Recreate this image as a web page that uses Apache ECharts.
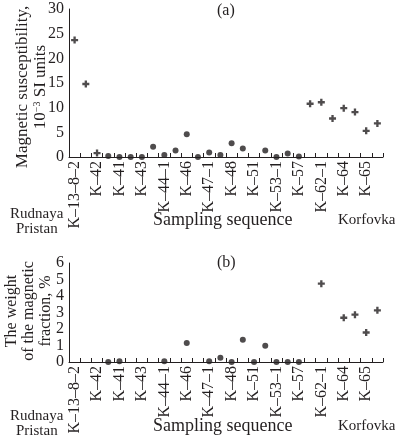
<!DOCTYPE html>
<html>
<head>
<meta charset="utf-8">
<script src="https://cdn.jsdelivr.net/npm/echarts@6/dist/echarts.min.js"></script>
<style>
  html, body { margin: 0; padding: 0; background: #fff; }
  #chart { width: 395px; height: 443px; }
</style>
</head>
<body>
<div id="chart"></div>
<script>
// sample slots along the sequence; only every other one is labelled
var samples = ['K–13–8–2', '', 'K–42', '', 'K–41', '', 'K–43', '', 'K–44–1', '', 'K–46', '',
  'K–47–1', '', 'K–48', '', 'K–51', '', 'K–53–1', '', 'K–57', '', 'K–62–1', '', 'K–64', '', 'K–65', ''];

// (a) magnetic susceptibility, 10^-3 SI units
var suscCross = [23.7, 14.8, 0.8, null, null, null, null, null, null, null, null, null, null, null,
  null, null, null, null, null, null, null, 10.8, 11.1, 7.8, 9.9, 9.1, 5.3, 6.8];
var suscDot = [null, null, null, 0.2, 0, 0, 0, 2.1, 0.4, 1.3, 4.6, 0, 0.9, 0.4,
  2.8, 1.7, null, 1.3, 0, 0.7, 0.1, null, null, null, null, null, null, null];

// (b) weight of the magnetic fraction, %
var fracCross = [null, null, null, null, null, null, null, null, null, null, null, null, null, null,
  null, null, null, null, null, null, null, null, 4.75, null, 2.68, 2.87, 1.79, 3.13];
var fracDot = [null, null, null, 0, 0.05, null, null, null, 0.05, null, 1.15, null, 0.04, 0.26,
  0, 1.35, 0, 0.99, 0, 0, 0, null, null, null, null, null, null, null];

var ink = '#231f20';
var serif = '"Liberation Serif", "DejaVu Serif", serif';
var plus = 'path://M2,0H4V2H6V4H4V6H2V4H0V2H2Z';

var chart = echarts.init(document.getElementById('chart'));

function xAxisFor(idx) {
  return {
    type: 'category',
    gridIndex: idx,
    data: samples,
    boundaryGap: true,
    axisLine: { lineStyle: { color: ink, width: 1 } },
    axisTick: { show: true, inside: true, length: 4, lineStyle: { color: ink } },
    axisLabel: { interval: 0, rotate: 90, margin: 4, color: ink, fontFamily: serif, fontSize: 16 }
  };
}

function yAxisFor(idx, max, step) {
  return {
    type: 'value',
    gridIndex: idx,
    min: 0,
    max: max,
    interval: step,
    splitLine: { show: false },
    axisTick: { show: false },
    axisLine: { show: true, lineStyle: { color: ink, width: 1 } },
    axisLabel: { color: ink, fontFamily: serif, fontSize: 16, margin: 5 }
  };
}

function scatter(xi, data, dot) {
  return {
    type: 'scatter',
    xAxisIndex: xi,
    yAxisIndex: xi,
    data: data,
    clip: false,
    symbol: dot ? 'circle' : plus,
    symbolSize: dot ? 6 : 7,
    itemStyle: { color: ink }
  };
}

// rotated axis title, drawn as a graphic so it sits exactly where the figure has it
function yTitle(x, y, text, size, lh) {
  return {
    type: 'text',
    x: x,
    y: y,
    rotation: Math.PI / 2,
    style: {
      text: text,
      fill: ink,
      fontFamily: serif,
      fontSize: size,
      lineHeight: lh,
      align: 'center',
      verticalAlign: 'middle',
      rich: { sup: { fontFamily: serif, fontSize: 10, lineHeight: lh, verticalAlign: 'top', padding: [0, 0, 6, 0], fill: ink } }
    }
  };
}

function caption(y1, y2, yMid) {
  return [
    { type: 'text', left: 10, top: y1, style: { text: 'Rudnaya', fill: ink, font: '15px ' + serif } },
    { type: 'text', left: 16, top: y2, style: { text: 'Pristan', fill: ink, font: '15px ' + serif } },
    { type: 'text', left: 153, top: yMid, style: { text: 'Sampling sequence', fill: ink, font: '18px ' + serif } },
    { type: 'text', left: 338, top: yMid + 2, style: { text: 'Korfovka', fill: ink, font: '15px ' + serif } }
  ];
}

var option = {
  backgroundColor: '#fff',
  animation: false,
  grid: [
    { left: 69, right: 12, top: 9, height: 148, outerBoundsMode: 'none' },
    { left: 69, right: 12, top: 263, height: 99, outerBoundsMode: 'none' }
  ],
  xAxis: [xAxisFor(0), xAxisFor(1)],
  yAxis: [yAxisFor(0, 30, 5), yAxisFor(1, 6, 1)],
  series: [
    scatter(0, suscCross, false),
    scatter(0, suscDot, true),
    scatter(1, fracCross, false),
    scatter(1, fracDot, true)
  ],
  graphic: [
    { type: 'text', left: 217, top: 3, style: { text: '(a)', fill: ink, font: '16px ' + serif } },
    { type: 'text', left: 217, top: 255, style: { text: '(b)', fill: ink, font: '16px ' + serif } },
    yTitle(32, 87, 'Magnetic susceptibility,\n10{sup|\u22123} SI units', 17, 18),
    yTitle(29, 311, 'The weight\nof the magnetic\nfraction, %', 16, 17)
  ].concat(caption(207, 222, 211)).concat(caption(409, 424, 417))
};

chart.setOption(option);
</script>
</body>
</html>
